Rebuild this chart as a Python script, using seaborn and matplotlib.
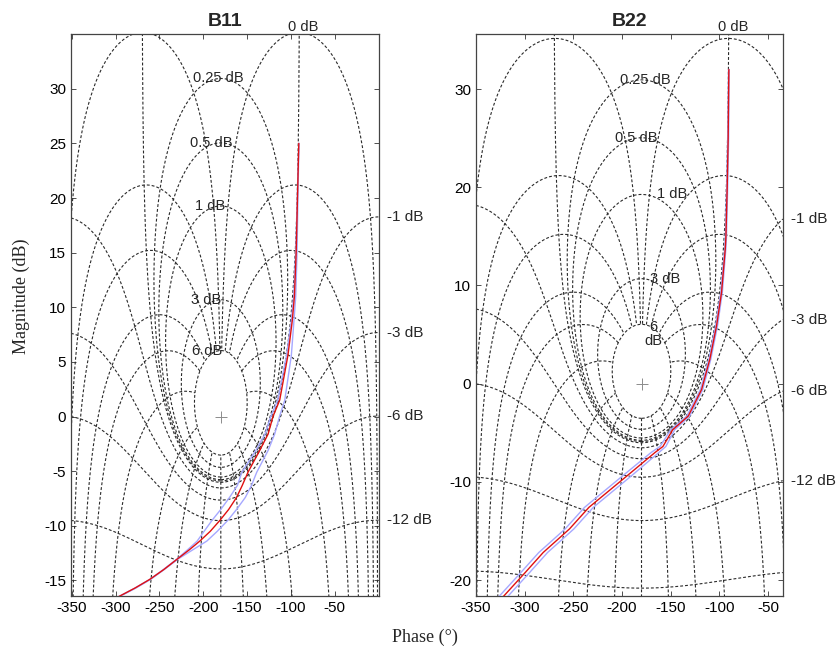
import numpy as np
import pandas as pd
import matplotlib
matplotlib.use("Agg")
import matplotlib.pyplot as plt
import seaborn as sns

# Nichols grid levels: closed-loop magnitude (dB) and closed-loop phase (deg)
m_levels = [6, 3, 1, 0.5, 0.25, 0, -1, -3, -6, -12, -20, -40]
n_levels = [-1, -5, -10, -20, -30, -50, -90, -120, -150, -180,
            -210, -240, -270, -310, -330, -340, -350, -355, -359]
pos_labels = [6, 3, 1, 0.5, 0.25]
neg_labels = [-1, -3, -6, -12]

# B11 open-loop response: nominal (red) and the two bounds (blue)
b11_mag = [25, 20, 15, 11, 8.8, 5.6, 1.5, 0, -1.6, -3.1, -5.1, -6.3, -7.4,
           -8.5, -9.5, -10.5, -11.4, -12.2, -13.0, -14.0, -14.9, -15.7, -16.5]
b11_nom = [-91, -92.5, -94, -96, -98.4, -103.4, -112.8, -120.5, -126, -135.6,
           -149, -155.5, -162, -171, -181, -192, -204, -216, -229, -245,
           -261, -278, -297]
b11_low = [-91, -92.7, -94.5, -96.8, -99.5, -105, -115, -123, -129.5, -140,
           -156, -161, -170, -180, -190, -199, -207, -218, -229.5, -245.5,
           -261, -278, -297]
b11_high = [-90.8, -92, -93, -94.5, -96.5, -99.5, -107, -113, -118.5, -126,
            -139, -145, -152, -162, -172, -184, -196, -212, -228, -244.5,
            -260, -277, -296]

# B22 open-loop response
b22_mag = [32, 25, 20, 15, 13.7, 9.3, 5.9, 2.5, -0.6, -3.3, -4.7, -6.4, -7.0,
           -9.4, -12.6, -14.8, -17.2, -19.3, -21.8]
b22_nom = [-90.3, -91, -92, -93.3, -94, -97.8, -102.9, -109.8, -118.3, -132,
           -148, -158, -166, -195, -234, -254, -281, -300, -323]
b22_low = [-90.6, -91.5, -92.5, -93.9, -94.6, -98.6, -103.9, -110.8, -119.5,
           -133.5, -150, -161, -170, -199.5, -238.5, -258.5, -285.5, -304.5,
           -327.5]
b22_high = [-90.0, -90.5, -91.5, -92.7, -93.4, -97.0, -101.9, -108.8, -117.1,
            -130.5, -146, -155, -162, -190.5, -229.5, -249.5, -276.5, -295.5,
            -318.5]

GRID_KW = dict(color="#2a2a2a", lw=0.8, dashes=(2.6, 1.8), zorder=1)


def m_contour(mdb):
    if mdb == 0:
        ph = np.linspace(-269.9, -90.1, 1500)
        return ph, 20 * np.log10(0.5 / np.abs(np.cos(np.radians(ph))))
    M = 10 ** (mdb / 20)
    c = M ** 2 / (1 - M ** 2)
    rho = M / abs(1 - M ** 2)
    g = c + rho * np.exp(1j * np.linspace(0, 2 * np.pi, 3000))
    if M > 1:
        ph = np.degrees(np.angle(g))
        ph = np.where(ph > 0, ph - 360, ph)
    else:
        ph = np.degrees(np.unwrap(np.angle(g))) - 360
    return ph, 20 * np.log10(np.abs(g))


# closed-loop gains used for phase contours (stop at the 6 dB contour)
r = np.unique(np.concatenate([np.logspace(-4, np.log10(1.995), 3000),
                              np.linspace(0.9, 1.1, 3000)]))
r = r[r <= 1.995]


def n_contour(ndeg):
    T = r * np.exp(1j * np.radians(ndeg))
    g = T / (1 - T)
    ph = np.degrees(np.angle(g))
    ph = np.where(ph > 0, ph - 360, ph)
    return ph, 20 * np.log10(np.abs(g))


def nichols_grid(ax, xlim, pos_x, six_two_lines=False):
    for ndeg in n_levels:
        ph, mag = n_contour(ndeg)
        ax.plot(ph, mag, **GRID_KW)
    for mdb in m_levels:
        ph, mag = m_contour(mdb)
        ax.plot(ph, mag, **GRID_KW)
    ax.plot([-180], [0], "+", color="0.55", ms=8, mew=0.7, zorder=2)

    # labels of the closed contours
    for mdb, x in zip(pos_labels, pos_x):
        M = 10 ** (mdb / 20)
        top = 20 * np.log10(M ** 2 / (M ** 2 - 1) + M / (M ** 2 - 1))
        if mdb == 6 and six_two_lines:
            ax.text(x, top - 1.0, "6\ndB", fontsize=10.5, ha="center",
                    va="center", linespacing=0.95)
        else:
            ax.text(x, top, f"{mdb:g} dB", fontsize=10.5, ha="left",
                    va="center")
    ax.annotate("0 dB", xy=(-86, ax.get_ylim()[1]), ha="center",
                va="bottom", fontsize=10.5, annotation_clip=False)

    # labels of the open contours, at the right edge
    for mdb in neg_labels:
        ph, mag = m_contour(mdb)
        keep = ph > -180
        y = np.interp(xlim[1], ph[keep], mag[keep])
        ax.annotate(f"{mdb:g} dB", xy=(xlim[1], y), xytext=(6, 0),
                    textcoords="offset points", ha="left", va="center",
                    fontsize=11, annotation_clip=False)


def response(ax, mag, nom, low, high):
    for ph in (low, high):
        sns.lineplot(x=ph, y=mag, ax=ax, sort=False, estimator=None,
                     color="#a6a8ff", lw=1.0, zorder=3)
    sns.lineplot(x=nom, y=mag, ax=ax, sort=False, estimator=None,
                 color="#e01010", lw=1.0, zorder=4)


def main():
    sns.set_style("ticks")
    plt.rcParams["font.family"] = ["Liberation Sans", "DejaVu Sans"]
    plt.rcParams["axes.unicode_minus"] = False
    plt.rcParams["xtick.direction"] = "in"
    plt.rcParams["ytick.direction"] = "in"
    plt.rcParams["xtick.top"] = True
    plt.rcParams["ytick.right"] = True

    fig = plt.figure(figsize=(8.38, 6.5), dpi=100)
    ax1 = fig.add_axes([0.0847, 0.0835, 0.367, 0.864])
    ax2 = fig.add_axes([0.568, 0.0835, 0.366, 0.864])

    panels = [
        (ax1, "B11", (-351, 0), (-16.4, 35.0), np.arange(-15, 31, 5),
         [-213, -214, -210, -215, -212], False,
         (b11_mag, b11_nom, b11_low, b11_high)),
        (ax2, "B22", (-350, -35), (-21.6, 35.6), np.arange(-20, 31, 10),
         [-168, -171, -164, -207, -202], True,
         (b22_mag, b22_nom, b22_low, b22_high)),
    ]
    for ax, title, xlim, ylim, yticks, pos_x, two, curves in panels:
        ax.set_xlim(xlim)
        ax.set_ylim(ylim)
        nichols_grid(ax, xlim, pos_x, two)
        response(ax, *curves)
        ax.set_xticks(np.arange(-350, -49, 50))
        ax.set_yticks(yticks)
        ax.tick_params(labelsize=11, length=3.5, width=0.6, colors="#333333",
                       labelcolor="black")
        for sp in ax.spines.values():
            sp.set_color("#444444")
            sp.set_linewidth(0.9)
        ax.set_xlabel("")
        ax.set_ylabel("")
        ax.set_title(title, fontsize=14, fontweight="bold", pad=6)

    fig.text(0.026, 1 - 296 / 650, "Magnitude (dB)", rotation=90,
             ha="center", va="center", fontsize=13,
             family=["Liberation Serif", "DejaVu Serif"])
    fig.text(425 / 838, 1 - 637 / 650, "Phase (°)", ha="center",
             va="center", fontsize=13,
             family=["Liberation Serif", "DejaVu Serif"])

    fig.savefig("out.png", dpi=100)


if __name__ == "__main__":
    main()
